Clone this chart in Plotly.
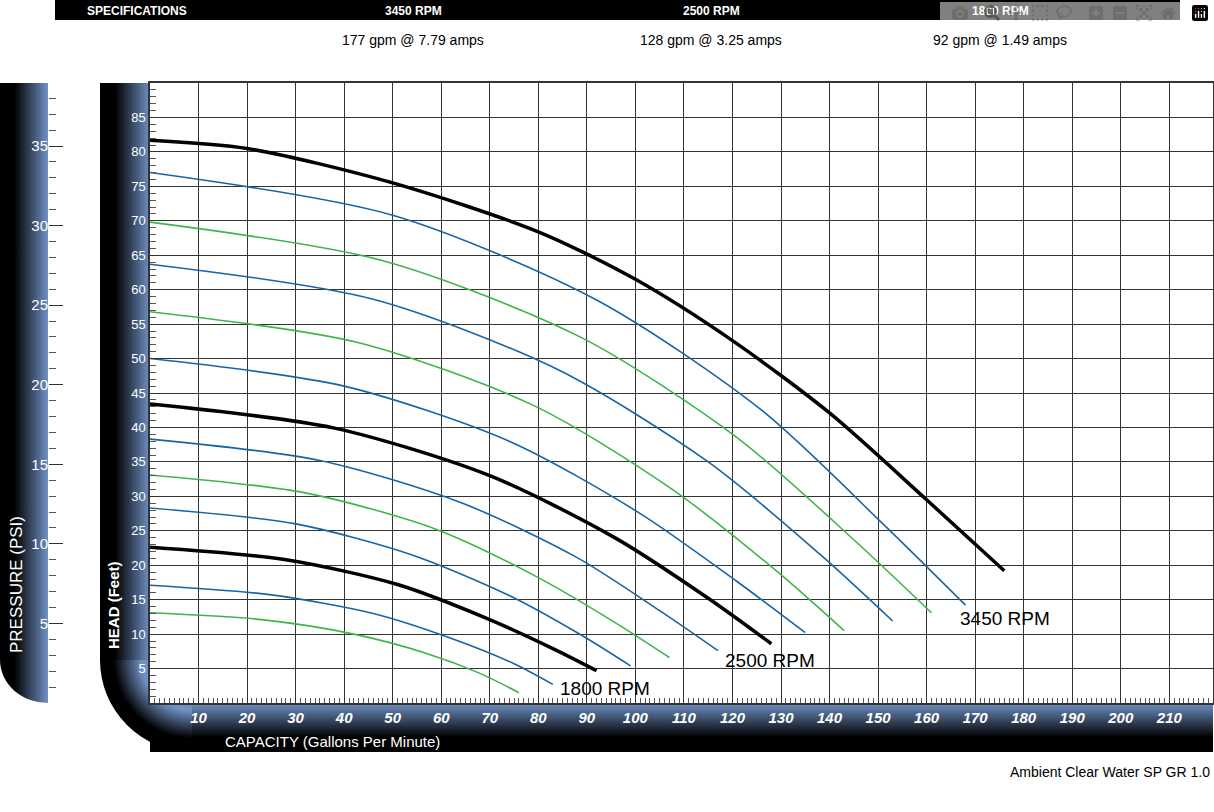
import base64
import plotly.graph_objects as go

W, H = 1214, 812
def px(x): return x / W
def py(y): return 1 - y / H

# ---- data (gpm, feet) ----
q_3450_black = [0, 20, 50, 80, 100, 120, 140, 160, 176]
h_3450_black = [81.7, 80.5, 75.5, 68.4, 61.5, 52.6, 42.1, 29.5, 19.2]
q_3450_b1 = [0, 50, 92, 126, 151, 168]; h_3450_b1 = [77, 70.8, 58.5, 42.5, 26, 14.2]
q_3450_g1 = [0, 48, 89, 121, 145, 161]; h_3450_g1 = [69.8, 64.2, 53, 38.5, 23.7, 13.1]
q_3450_b2 = [0, 46, 84, 115, 138, 153]; h_3450_b2 = [63.7, 58.6, 48.4, 35, 21.6, 11.9]
q_3450_g2 = [0, 43, 79, 107, 129, 143]; h_3450_g2 = [56.8, 52.3, 43.2, 31.3, 19.2, 10.5]
q_3450_b3 = [0, 40, 74, 101, 121, 135]; h_3450_b3 = [50, 46, 38, 27.5, 17.6, 10.2]
q_2500_black = [0, 38, 70, 96, 115, 128]; h_2500_black = [43.4, 39.9, 33, 23.9, 15.2, 8.6]
q_2500_b1 = [0, 35, 64, 88, 105, 117]; h_2500_b1 = [38.3, 35.2, 29.1, 21.1, 13.4, 7.6]
q_2500_g1 = [0, 32, 59, 80, 96, 107]; h_2500_g1 = [33.1, 30.5, 25.2, 18.2, 11.6, 6.6]
q_2500_b2 = [0, 30, 54, 74, 89, 99]; h_2500_b2 = [28.3, 26, 21.5, 15.6, 9.8, 5.4]
q_1800_black = [0, 28, 51, 69, 83, 92]; h_1800_black = [22.6, 20.8, 17.2, 12.4, 7.9, 4.7]
q_1800_b1 = [0, 25, 46, 62, 75, 83]; h_1800_b1 = [17.1, 15.7, 13, 9.4, 5.7, 2.7]
q_1800_g1 = [0, 23, 42, 57, 68, 76]; h_1800_g1 = [13.1, 12.1, 10, 7.2, 4.3, 1.5]

spec_headers = ["SPECIFICATIONS", "3450 RPM", "2500 RPM", "1800 RPM"]
spec_values = ["177 gpm @ 7.79 amps", "128 gpm @ 3.25 amps", "92 gpm @ 1.49 amps"]
x_ticks = list(range(10, 220, 10))
head_ticks = list(range(5, 90, 5))
psi_ticks = list(range(5, 40, 5))

BLACK, BLUE, GREEN = "#000000", "#1565a8", "#3db54a"
curves = [
    (q_3450_b1, h_3450_b1, BLUE), (q_3450_g1, h_3450_g1, GREEN),
    (q_3450_b2, h_3450_b2, BLUE), (q_3450_g2, h_3450_g2, GREEN),
    (q_3450_b3, h_3450_b3, BLUE),
    (q_2500_b1, h_2500_b1, BLUE), (q_2500_g1, h_2500_g1, GREEN),
    (q_2500_b2, h_2500_b2, BLUE),
    (q_1800_b1, h_1800_b1, BLUE), (q_1800_g1, h_1800_g1, GREEN),
    (q_3450_black, h_3450_black, BLACK), (q_2500_black, h_2500_black, BLACK),
    (q_1800_black, h_1800_black, BLACK),
]

fig = go.Figure()
for q, h, c in curves:
    fig.add_trace(go.Scatter(x=q, y=h, mode="lines",
                             line=dict(color=c, width=3.5 if c == BLACK else 1.6, shape="spline", smoothing=0.8),
                             hoverinfo="skip", showlegend=False))
fig.add_trace(go.Scatter(x=[None], y=[None], yaxis="y2", showlegend=False))

BL = "#7091c4"
svg = f'''<svg xmlns="http://www.w3.org/2000/svg" width="{W}" height="{H}" viewBox="0 0 {W} {H}" preserveAspectRatio="none">
<defs>
<linearGradient id="hg" x1="0" x2="1" y1="0" y2="0"><stop offset="0" stop-color="#000"/><stop offset="0.3" stop-color="#000"/><stop offset="1" stop-color="{BL}"/></linearGradient>
<linearGradient id="vg" x1="0" x2="0" y1="0" y2="1"><stop offset="0" stop-color="{BL}"/><stop offset="0.7" stop-color="#000"/><stop offset="1" stop-color="#000"/></linearGradient>
<radialGradient id="rg" gradientUnits="userSpaceOnUse" cx="192" cy="660" r="92"><stop offset="0.55" stop-color="{BL}"/><stop offset="0.85" stop-color="#000"/><stop offset="1" stop-color="#000"/></radialGradient>
</defs>
<path d="M0,83 L48,83 L48,703 A48,43 0 0 1 0,660 Z" fill="url(#hg)"/>
<rect x="100" y="83" width="50" height="578" fill="url(#hg)"/>
<rect x="150" y="703" width="1063" height="49" fill="url(#vg)"/>
<path d="M100,660 L150,660 L150,703 L192,703 L192,752 A92,92 0 0 1 100,660 Z" fill="url(#rg)"/>
</svg>'''
src = "data:image/svg+xml;base64," + base64.b64encode(svg.encode()).decode()

gc = "#333333"
fig.update_layout(
    width=W, height=H, margin=dict(l=0, r=0, t=0, b=0),
    paper_bgcolor="white", plot_bgcolor="white",
    font=dict(family="Arial, Liberation Sans, sans-serif", color="black"),
    images=[dict(source=src, xref="paper", yref="paper", x=0, y=1, sizex=1, sizey=1,
                 sizing="stretch", xanchor="left", yanchor="top", layer="below")],
    xaxis=dict(domain=[px(150), px(1213)], range=[0, 219], tickvals=x_ticks, showgrid=True, gridcolor=gc, gridwidth=1,
               showline=True, linecolor=gc, linewidth=1.5, mirror=True, zeroline=False,
               ticks="inside", ticklen=8, tickcolor=gc,
               minor=dict(dtick=1, ticks="inside", ticklen=5, tickcolor="#555", showgrid=False),
               tickfont=dict(color="white", size=15, weight="bold", style="italic")),
    yaxis=dict(domain=[py(703), py(83)], range=[0, 90], tickvals=head_ticks, showgrid=True, gridcolor=gc, gridwidth=1,
               showline=True, linecolor=gc, linewidth=1.5, mirror=True, zeroline=False,
               ticks="inside", ticklen=9, tickcolor=gc,
               minor=dict(dtick=1, ticks="inside", ticklen=6, tickcolor="#555", showgrid=False),
               tickfont=dict(color="white", size=13)),
    yaxis2=dict(overlaying="y", anchor="free", position=px(48), side="left", range=[0, 90 / 2.31],
                tickvals=psi_ticks, showgrid=False, zeroline=False, showline=False,
                ticks="inside", ticklen=14, tickcolor=gc,
                minor=dict(dtick=1, ticks="inside", ticklen=7, tickcolor="#555"),
                tickfont=dict(color="white", size=15)),
)

fig.add_shape(type="rect", xref="paper", yref="paper", x0=px(55), x1=px(1180), y0=py(20), y1=py(0),
              fillcolor="black", line=dict(width=0), layer="below")
ann = []
hx = [137, 413, 711, 1000]
for t, x in zip(spec_headers, hx):
    ann.append(dict(text=f"<b>{t}</b>", x=px(x), y=py(11), font=dict(color="white", size=12)))
for t, x in zip(spec_values, hx[1:]):
    ann.append(dict(text=t, x=px(x), y=py(40), font=dict(size=14)))
ann += [
    dict(text="0", x=px(139), y=py(722), font=dict(size=13)),
    dict(text="CAPACITY (Gallons Per Minute)", x=px(332), y=py(741), font=dict(color="white", size=15)),
    dict(text="<b>HEAD (Feet)</b>", x=px(113), y=py(605), textangle=-90, font=dict(color="white", size=15)),
    dict(text="PRESSURE (PSI)", x=px(16), y=py(585), textangle=-90, font=dict(color="white", size=17)),
    dict(text="Ambient Clear Water SP GR 1.0", x=px(1212), y=py(772), xanchor="right", font=dict(size=14)),
]
for t, x, y in [("3450 RPM", 1005, 618), ("2500 RPM", 770, 660), ("1800 RPM", 605, 688)]:
    ann.append(dict(text=t, x=px(x), y=py(y), font=dict(size=19)))
for a in ann:
    a.update(xref="paper", yref="paper", showarrow=False, yanchor="middle")
    a.setdefault("xanchor", "center")
    fig.add_annotation(**a)

fig.write_html("out.html", post_script="document.body.style.margin='0';")
